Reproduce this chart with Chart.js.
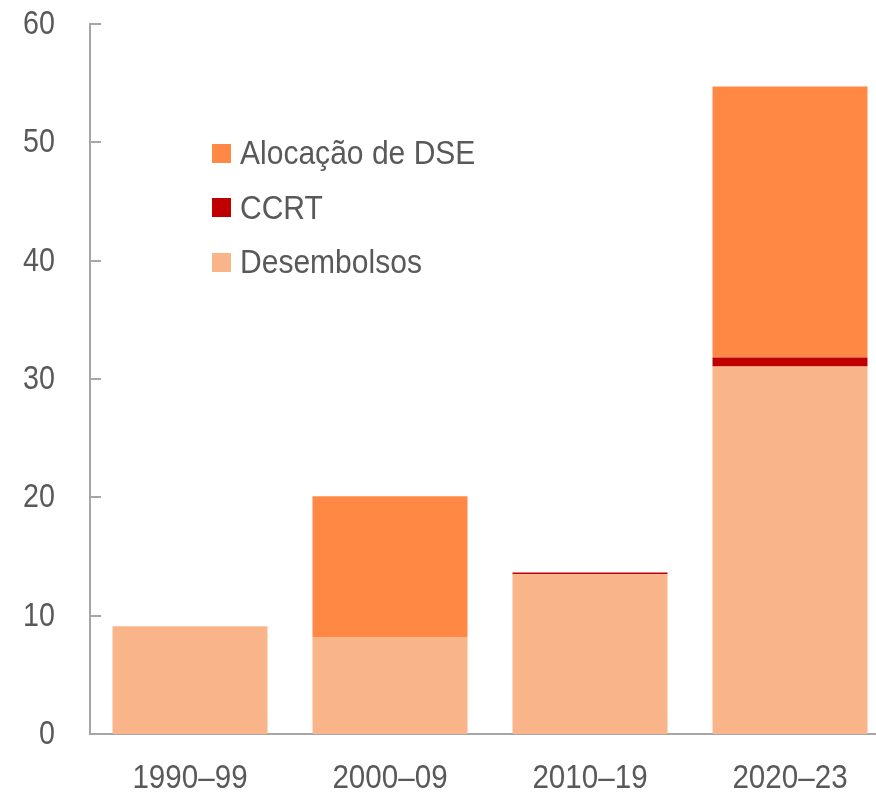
<!DOCTYPE html>
<html>
<head>
<meta charset="utf-8">
<script src="https://cdn.jsdelivr.net/npm/chart.js@4.4.1/dist/chart.umd.min.js"></script>
<style>
  html, body { margin: 0; padding: 0; background: #fff; overflow: hidden; }
  #wrap { position: relative; width: 892px; height: 797px; }
  #legend { position: absolute; left: 212px; top: 126px; font-family: 'Liberation Sans', Arial, sans-serif; font-size: 33px; color: #595959; }
  #legend div { display: flex; align-items: center; height: 54.5px; white-space: nowrap; }
  #legend span.box { display: inline-block; width: 19px; height: 19px; margin-right: 9px; flex: none; }
  #legend span.txt { display: inline-block; transform: scaleX(0.91); transform-origin: left center; }
</style>
</head>
<body>
<div id="wrap">
  <canvas id="chart" width="892" height="797"></canvas>
  <div id="legend"></div>
</div>
<script>
// ── Data ─────────────────────────────────────────────────────
const periods      = ['1990–99', '2000–09', '2010–19', '2020–23'];
const desembolsos  = [9.1, 8.2, 13.5, 31.05];
const ccrt         = [0, 0, 0.15, 0.77];
const alocacaoDSE  = [0, 11.9, 0, 22.9];
const yTicks       = [0, 10, 20, 30, 40, 50, 60];

const FONT  = "'Liberation Sans', Arial, sans-serif";
const AXIS  = '#a6a6a6';
const TEXT  = '#595959';
const NARROW = 0.87;   // horizontal squeeze for the axis labels

// ── Axis decorations: inward ticks + narrow tick labels ──────
const axisDecor = {
    id: 'axisDecor',
    afterDraw(chart) {
        const { x, y } = chart.scales;
        const ctx = chart.ctx;
        ctx.save();

        // short tick marks pointing into the plot
        ctx.strokeStyle = AXIS;
        ctx.lineWidth = 2;
        yTicks.forEach(v => {
            const py = Math.round(y.getPixelForValue(v));
            ctx.beginPath();
            ctx.moveTo(y.right, py);
            ctx.lineTo(y.right + 11, py);
            ctx.stroke();
        });

        ctx.fillStyle = TEXT;
        ctx.textBaseline = 'middle';

        // value labels, right-aligned left of the axis
        ctx.font = '33px ' + FONT;
        ctx.textAlign = 'right';
        yTicks.forEach(v => {
            ctx.save();
            ctx.translate(y.right - 35, y.getPixelForValue(v) + 1);
            ctx.scale(NARROW, 1);
            ctx.fillText(String(v), 0, 0);
            ctx.restore();
        });

        // period labels under each bar
        ctx.font = '34px ' + FONT;
        ctx.textAlign = 'center';
        periods.forEach((p, i) => {
            ctx.save();
            ctx.translate(x.getPixelForValue(i), x.top + 45);
            ctx.scale(NARROW, 1);
            ctx.fillText(p, 0, 0);
            ctx.restore();
        });

        ctx.restore();
    }
};

const chart = new Chart(document.getElementById('chart'), {
    type: 'bar',
    data: {
        labels: periods,
        datasets: [
            { label: 'Desembolsos',     data: desembolsos, backgroundColor: '#f9b48a' },
            { label: 'CCRT',            data: ccrt,        backgroundColor: '#c00000' },
            { label: 'Alocação de DSE', data: alocacaoDSE, backgroundColor: '#ff8845' }
        ]
    },
    options: {
        responsive: false,
        animation: false,
        layout: { padding: { top: 24, right: 2, left: 0, bottom: 0 } },
        datasets: { bar: { barPercentage: 0.775, categoryPercentage: 1, borderWidth: 0 } },
        plugins: { legend: { display: false }, tooltip: { enabled: false } },
        scales: {
            x: {
                stacked: true,
                grid: { display: false, drawTicks: false },
                border: { color: AXIS, width: 2 },
                ticks: { display: false },
                afterFit: s => { s.height = 63; }
            },
            y: {
                stacked: true,
                min: 0, max: 60,
                grid: { display: false, drawTicks: false },
                border: { color: AXIS, width: 2 },
                ticks: { display: false, stepSize: 10 },
                afterFit: s => { s.width = 90; }
            }
        }
    },
    plugins: [axisDecor]
});

// ── Legend (top to bottom: reverse of the stacking order) ────
const legend = document.getElementById('legend');
chart.data.datasets.slice().reverse().forEach(ds => {
    const row = document.createElement('div');
    row.innerHTML = `<span class="box" style="background:${ds.backgroundColor}"></span><span class="txt">${ds.label}</span>`;
    legend.appendChild(row);
});
</script>
</body>
</html>
